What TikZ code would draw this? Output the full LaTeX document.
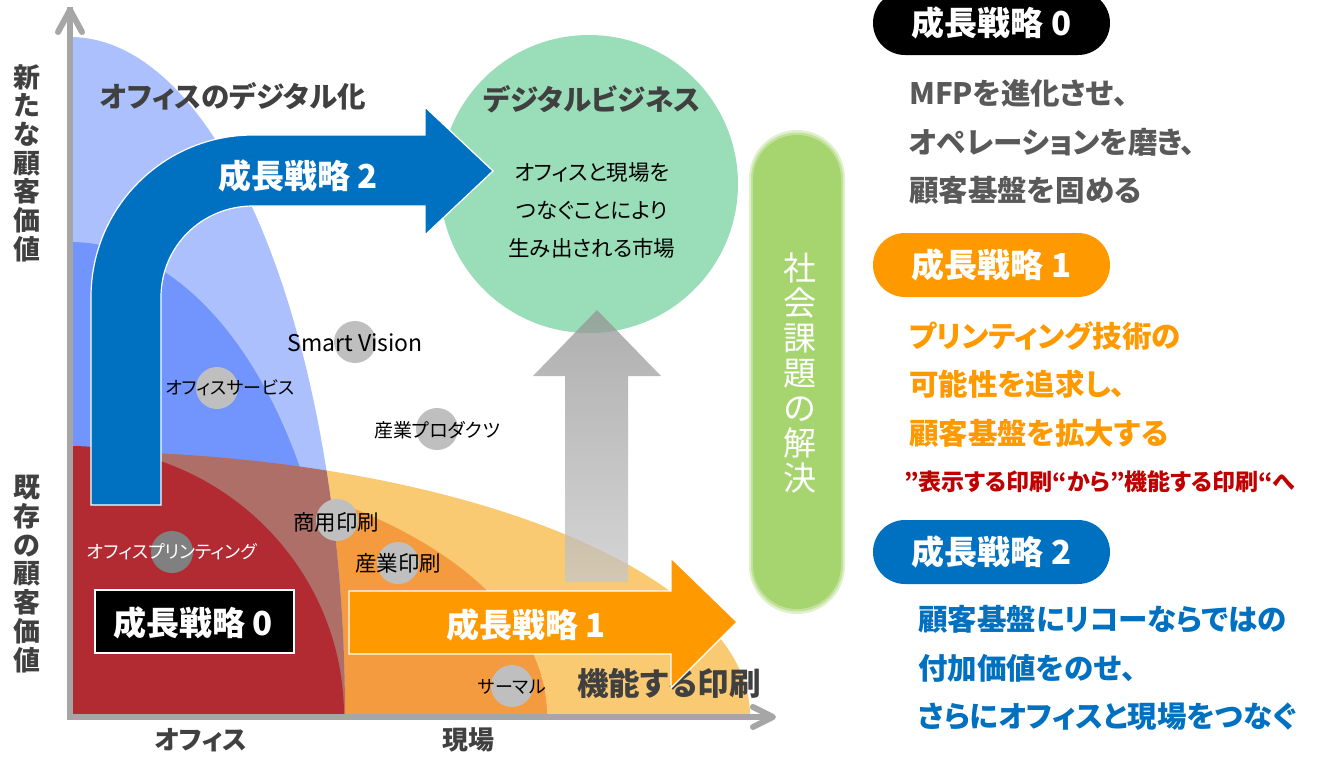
\documentclass[tikz,border=0pt]{standalone}
\usepackage{fontspec}
\setmainfont{Noto Sans CJK JP}[RawFeature=+palt]
\usetikzlibrary{shapes.misc}
\definecolor{lblue}{HTML}{ABC0FC}
\definecolor{mblue}{HTML}{7195FD}
\definecolor{redr}{HTML}{B22B33}
\definecolor{lorange}{HTML}{F9CA72}
\definecolor{dorange}{HTML}{F49A3F}
\definecolor{brownish}{HTML}{AE6F68}
\definecolor{rblue}{HTML}{0070C0}
\definecolor{rorange}{HTML}{FF9900}
\definecolor{mint}{HTML}{9ADDB9}
\definecolor{barg}{HTML}{A6D570}
\definecolor{mgray}{HTML}{BFBFBF}
\definecolor{dgray}{HTML}{808080}
\definecolor{axisg}{HTML}{A6A6A6}
\definecolor{darktxt}{HTML}{404040}
\definecolor{graytxt}{HTML}{595959}
\definecolor{redtxt}{HTML}{C00000}
\tikzset{
  marker/.style={circle, fill=mgray, minimum size=42pt, inner sep=0pt},
  lbl/.style={font=\fontsize{21.5}{23}\selectfont, text=black, inner sep=0pt},
  klbl/.style={font=\fontsize{18}{20}\selectfont, text=black, inner sep=0pt},
  headtxt/.style={font=\bfseries\fontsize{28.5}{30}\selectfont, text=darktxt, inner sep=0pt},
  vtxt/.style={font=\bfseries\fontsize{27}{28.7}\selectfont, text=darktxt, align=center, inner sep=0pt},
  arrowtxt/.style={font=\bfseries\fontsize{33}{33}\selectfont, text=white, inner sep=0pt},
  pill/.style={rounded rectangle, minimum width=237pt, minimum height=64pt, text=white,
               font=\bfseries\fontsize{33}{33}\selectfont, inner sep=0pt},
  para/.style={anchor=west, align=left, inner sep=0pt, font=\bfseries\fontsize{29.5}{48.5}\selectfont},
  axisline/.style={draw=axisg, line width=6pt},
  chev/.style={draw=axisg, line width=6pt, line cap=round, line join=round},
}
\begin{document}
\begin{tikzpicture}[x=1pt,y=-1pt]
\useasboundingbox (0,0) rectangle (1318,756);

% ---- quadrant regions ----
\begin{scope}
  \clip (72,0) rectangle (1318,719);
  \fill[lorange] (70,716) ellipse [x radius=680pt, y radius=265pt];
  \fill[dorange] (70,716) ellipse [x radius=477pt, y radius=258pt];
  \fill[lblue] (70,716) ellipse [x radius=275pt, y radius=679pt];
  \fill[mblue] (70,716) ellipse [x radius=270pt, y radius=474pt];
  \begin{scope}
    \clip (70,716) ellipse [x radius=275pt, y radius=679pt];
    \fill[brownish] (70,716) ellipse [x radius=680pt, y radius=265pt];
  \end{scope}
  \fill[redr] (70,716) ellipse [x radius=274pt, y radius=270pt];
\end{scope}

% ---- axes ----
\coordinate (O) at (70,717);
\coordinate (Ytop) at (70,10);
\coordinate (Xend) at (773,717);
\draw[axisline] (O) -- ([yshift=3pt]Ytop);
\draw[axisline] ([xshift=-3pt]O) -- ([xshift=-3pt]Xend);
\draw[chev] ([shift={(-12,22)}]Ytop) -- (Ytop) -- ([shift={(12,22)}]Ytop);
\draw[chev] ([shift={(-20,-10)}]Xend) -- (Xend) -- ([shift={(-20,10)}]Xend);

% ---- green market circle ----
\node[circle, fill=mint, minimum size=298pt, inner sep=0pt] (market) at (589,184) {};

% ---- social issue bar ----
\node[rounded rectangle, rotate=90, fill=barg!35, minimum width=484pt, minimum height=96pt, inner sep=0pt] (barglow) at (797,372) {};
\node[rounded rectangle, rotate=90, fill=barg!70, minimum width=479pt, minimum height=92pt, inner sep=0pt] (barmid) at (797,372) {};
\node[rounded rectangle, rotate=90, fill=barg, minimum width=474pt, minimum height=88pt, inner sep=0pt] (bar) at (797,372) {};
\node[font=\fontsize{33}{35}\selectfont, text=white, align=center, inner sep=0pt] (social) at (800,373) {社\\会\\課\\題\\の\\解\\決};

% ---- growth strategy 2 arrow (blue, bent) ----
\fill[rblue, draw=white, line width=1.2pt]
  (91,505) -- (91,297) .. controls (91,207.5) and (163.5,135) .. (253,135)
  -- (425,135) -- (425,107) -- (493,171) -- (425,235) -- (425,206) -- (253,206)
  .. controls (202.2,206) and (161,246.2) .. (161,297) -- (161,505) -- cycle;
\node[arrowtxt] (gs2) at (298,176) {成長戦略 2};

% ---- gray up arrow ----
\shade[top color=black!42, bottom color=black!22, fill opacity=0.75]
  (565,582) -- (565,376) -- (533,376) -- (597,310) -- (661,376) -- (628,376) -- (628,582) -- cycle;

% ---- headings ----
\node[headtxt] (digi) at (233,96) {オフィスのデジタル化};
\node[headtxt] (dbiz) at (592,99) {デジタルビジネス};
\node[lbl, align=center, font=\fontsize{21.5}{38}\selectfont] (mkt) at (592,210) {オフィスと現場を\\つなぐことにより\\生み出される市場};
\node[font=\bfseries\fontsize{31.5}{32}\selectfont, text=darktxt, inner sep=0pt] (func) at (669,683) {機能する印刷};

% ---- markers ----
\node[marker] (sv) at (355,342) {};
\node[lbl, font=\fontsize{23}{24}\selectfont] (svt) at (355,343) {Smart Vision};
\node[marker] (os) at (217,388) {};
\node[klbl] (ost) at (230,388) {オフィスサービス};
\node[marker] (ip) at (437,429) {};
\node[klbl, font=\fontsize{19}{20}\selectfont] (ipt) at (437,430) {産業プロダクツ};
\node[marker] (cp) at (337,520) {};
\node[lbl] (cpt) at (336,522) {商用印刷};
\node[marker] (ipr) at (398,563) {};
\node[lbl] (iprt) at (398,563) {産業印刷};
\node[marker, fill=dgray] (op) at (172,552) {};
\node[klbl, text=white] (opt) at (172,552) {オフィスプリンティング};
\node[marker] (th) at (512,686) {};
\node[klbl] (tht) at (512,687) {サーマル};

% ---- growth strategy 1 arrow (orange) ----
\fill[rorange, draw=white, line width=1.2pt]
  (349,591) -- (671,591) -- (671,558) -- (737,622) -- (671,688) -- (671,654) -- (349,654) -- cycle;
\node[arrowtxt] (gs1) at (526,625) {成長戦略 1};

% ---- growth strategy 0 box ----
\node[fill=black, draw=white, line width=1.2pt, minimum width=199pt, minimum height=63pt, inner sep=0pt] (gs0box) at (194.5,621.5) {};
\node[arrowtxt] (gs0) at (193,623) {成長戦略 0};

% ---- axis labels ----
\node[vtxt] (newv) at (27,163) {新\\た\\な\\顧\\客\\価\\値};
\node[vtxt] (oldv) at (27,574) {既\\存\\の\\顧\\客\\価\\値};
\node[font=\bfseries\fontsize{26}{26}\selectfont, text=darktxt, inner sep=0pt] (xoff) at (201,740) {オフィス};
\node[font=\bfseries\fontsize{26}{26}\selectfont, text=darktxt, inner sep=0pt] (xfield) at (468,740) {現場};

% ---- right legend ----
\node[pill, fill=black] (p0) at (991.5,23) {成長戦略 0};
\node[para, text=graytxt] (t0) at (909,142) {MFPを進化させ、\\オペレーションを磨き、\\顧客基盤を固める};
\node[pill, fill=rorange] (p1) at (991.5,265) {成長戦略 1};
\node[para, text=rorange] (t1) at (909,384) {プリンティング技術の\\可能性を追求し、\\顧客基盤を拡大する};
\node[anchor=west, inner sep=0pt, font=\bfseries\fontsize{23}{24}\selectfont, text=redtxt] (t1b) at (904,482) {”表示する印刷“から”機能する印刷“へ};
\node[pill, fill=rblue] (p2) at (991.5,552) {成長戦略 2};
\node[para, text=rblue] (t2) at (918,668) {顧客基盤にリコーならではの\\付加価値をのせ、\\さらにオフィスと現場をつなぐ};
\end{tikzpicture}
\end{document}
